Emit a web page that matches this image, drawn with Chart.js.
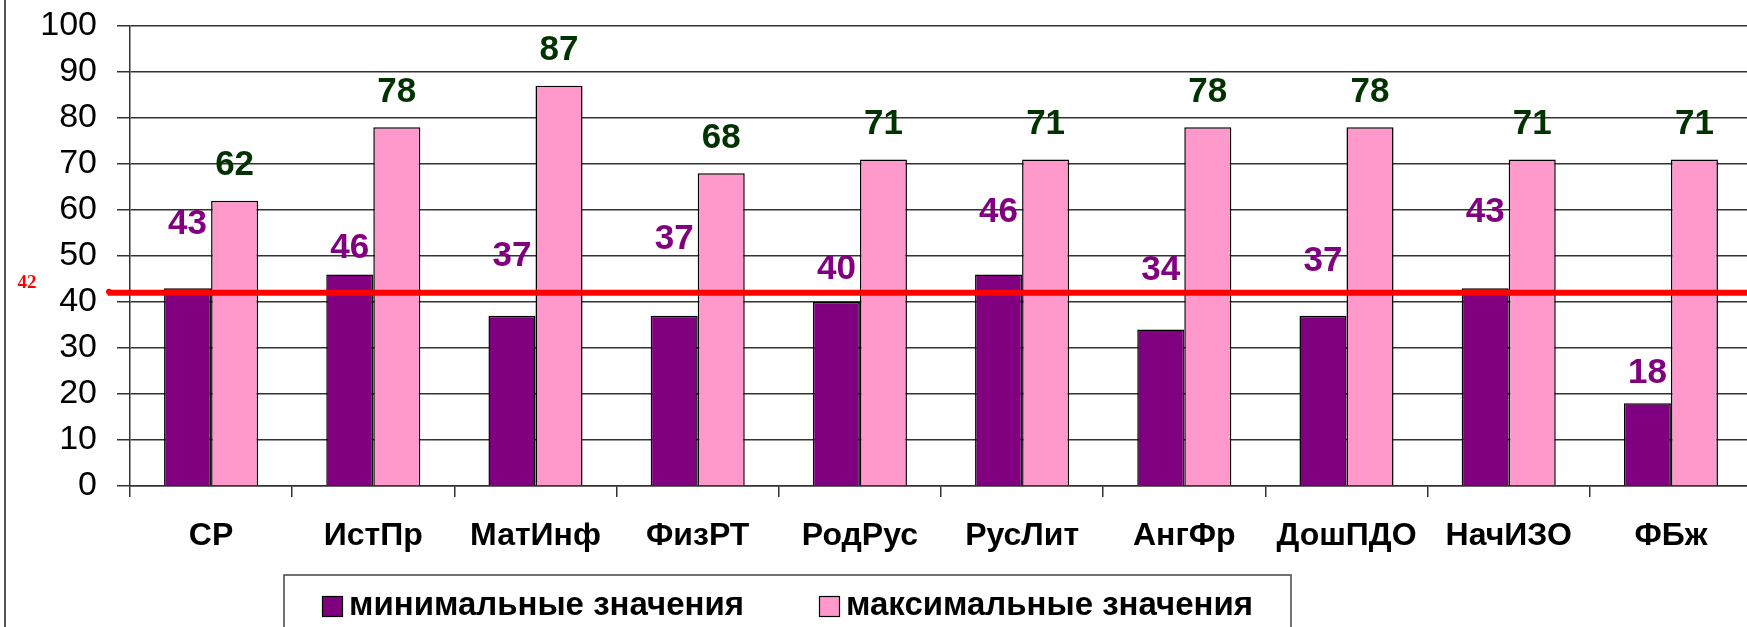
<!DOCTYPE html>
<html lang="ru">
<head>
  <meta charset="UTF-8" />
  <title>Минимальные и максимальные значения</title>
  <script src="https://cdn.jsdelivr.net/npm/chart.js"></script>
  <style>
    html, body {
      margin: 0;
      padding: 0;
      background: #ffffff;
      overflow: hidden;
    }
    #chart {
      display: block;
    }
  </style>
</head>
<body>
  <canvas id="chart" width="1760" height="627"></canvas>

  <script>
    const categories = ['СР', 'ИстПр', 'МатИнф', 'ФизРТ', 'РодРус', 'РусЛит', 'АнгФр', 'ДошПДО', 'НачИЗО', 'ФБж'];
    const minValues = [43, 46, 37, 37, 40, 46, 34, 37, 43, 18];
    const maxValues = [62, 78, 87, 68, 71, 71, 78, 78, 71, 71];
    const seriesNames = ['минимальные значения', 'максимальные значения'];
    const yMin = 0, yMax = 100, yStep = 10;
    const referenceLevel = 42;

    // how far (px) each min label sits above its bar, as placed in the original
    const minLabelLift = [64, 26, 59, 76, 33, 62, 59, 54, 76, 30];
    const maxLabelLift = 35;

    const purple = '#800080';
    const pink = '#ff99cc';
    const darkGreen = '#003300';
    const axisColor = '#333333';
    const sans = "'Liberation Sans', Arial, sans-serif";

    const frame = {
      id: 'frame',
      beforeDraw(chart) {
        const ctx = chart.ctx;
        ctx.save();
        ctx.fillStyle = '#ffffff';
        ctx.fillRect(0, 0, chart.width, chart.height);
        ctx.strokeStyle = '#555555';
        ctx.lineWidth = 2;
        ctx.beginPath();
        ctx.moveTo(5, 0);
        ctx.lineTo(5, chart.height);
        ctx.stroke();
        ctx.restore();
      }
    };

    const refLine = {
      id: 'refLine',
      afterDatasetsDraw(chart) {
        const ctx = chart.ctx;
        const y = chart.scales.y.getPixelForValue(referenceLevel);
        ctx.save();
        ctx.strokeStyle = '#ff0000';
        ctx.lineWidth = 6;
        ctx.beginPath();
        ctx.moveTo(chart.chartArea.left - 22, y);
        ctx.lineTo(chart.width, y);
        ctx.stroke();
        ctx.fillStyle = '#ff0000';
        ctx.beginPath();
        ctx.arc(chart.chartArea.left - 21, y - 1, 3, 0, Math.PI * 2);
        ctx.fill();
        ctx.font = "bold 19px 'Liberation Serif', 'Times New Roman', serif";
        ctx.textAlign = 'center';
        ctx.textBaseline = 'middle';
        ctx.fillText(String(referenceLevel), 27, y - 10);
        ctx.restore();
      }
    };

    const valueLabels = {
      id: 'valueLabels',
      afterDatasetsDraw(chart) {
        const ctx = chart.ctx;
        ctx.save();
        ctx.font = 'bold 35px ' + sans;
        ctx.textAlign = 'center';
        ctx.textBaseline = 'middle';
        chart.getDatasetMeta(0).data.forEach((bar, i) => {
          ctx.fillStyle = purple;
          ctx.fillText(String(minValues[i]), bar.x, bar.y - minLabelLift[i]);
        });
        chart.getDatasetMeta(1).data.forEach((bar, i) => {
          ctx.fillStyle = darkGreen;
          ctx.fillText(String(maxValues[i]), bar.x, bar.y - maxLabelLift);
        });
        ctx.restore();
      }
    };

    // legend box at the bottom, cut off by the picture edge like in the original
    const boxLegend = {
      id: 'boxLegend',
      afterDraw(chart) {
        const ctx = chart.ctx;
        const colors = [purple, pink];
        const itemX = [322, 819];
        const textW = [395, 407];
        const cy = 606;
        ctx.save();
        ctx.strokeStyle = '#444444';
        ctx.lineWidth = 1.5;
        ctx.strokeRect(284, 575, 1007, 80);
        ctx.font = 'bold 34px ' + sans;
        ctx.textBaseline = 'middle';
        seriesNames.forEach((name, i) => {
          ctx.fillStyle = colors[i];
          ctx.fillRect(itemX[i], cy - 10, 20, 20);
          ctx.strokeStyle = '#000000';
          ctx.lineWidth = 1.2;
          ctx.strokeRect(itemX[i] + 0.5, cy - 9.5, 20, 20);
          const w = ctx.measureText(name).width;
          ctx.save();
          ctx.translate(itemX[i] + 27, cy);
          ctx.scale(textW[i] / w, 1);
          ctx.fillStyle = '#000000';
          ctx.fillText(name, 0, 0);
          ctx.restore();
        });
        ctx.restore();
      }
    };

    new Chart(document.getElementById('chart'), {
      type: 'bar',
      data: {
        labels: categories,
        datasets: [
          {
            label: seriesNames[0],
            data: minValues,
            backgroundColor: purple,
            borderColor: '#000000',
            borderWidth: 1.5
          },
          {
            label: seriesNames[1],
            data: maxValues,
            backgroundColor: pink,
            borderColor: '#000000',
            borderWidth: 1.5
          }
        ]
      },
      options: {
        responsive: false,
        animation: false,
        categoryPercentage: 0.58,
        barPercentage: 1.0,
        layout: { padding: { left: 0, top: 26, right: 8, bottom: 0 } },
        plugins: {
          legend: { display: false },
          tooltip: { enabled: false }
        },
        scales: {
          x: {
            grid: {
              display: true,
              drawOnChartArea: false,
              drawTicks: true,
              tickLength: 11,
              color: axisColor,
              lineWidth: 1.5
            },
            border: { display: true, color: axisColor, width: 1.5 },
            ticks: {
              color: '#000000',
              font: { family: sans, size: 32, weight: 'bold' },
              padding: 20,
              maxRotation: 0,
              autoSkip: false
            },
            afterFit(scale) { scale.height = 141; }
          },
          y: {
            min: yMin,
            max: yMax,
            grid: {
              color: axisColor,
              lineWidth: 1.5,
              drawTicks: true,
              tickLength: 13
            },
            border: { display: true, color: axisColor, width: 1.5 },
            ticks: {
              stepSize: yStep,
              color: '#000000',
              font: { family: sans, size: 34 },
              padding: 20
            },
            afterFit(scale) {
              scale.width = 130;
              scale.paddingTop = 0;
              scale.paddingBottom = 0;
            }
          }
        }
      },
      plugins: [frame, refLine, valueLabels, boxLegend]
    });
  </script>
</body>
</html>
